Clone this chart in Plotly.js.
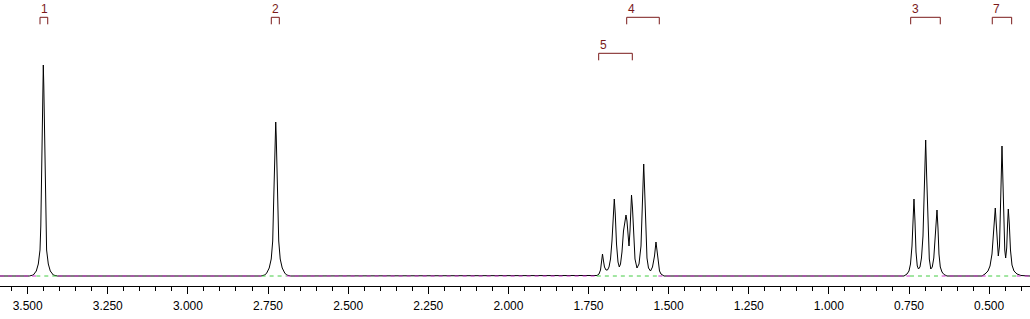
<!DOCTYPE html>
<html>
<head>
<meta charset="utf-8">
<script src="https://cdn.plot.ly/plotly-3.0.1.min.js"></script>
<style>
  html, body { margin: 0; padding: 0; background: #ffffff; }
  #chart { width: 1030px; height: 319px; }
</style>
</head>
<body>
<div id="chart"></div>
<script>
// ---- Data (chemical shift in ppm, intensity in arbitrary units) ----
const shift = [
  3.5863,
  // signal 1
  3.4949, 3.4824, 3.4730, 3.4668, 3.4615, 3.4590, 3.4565, 3.4528, 3.4512, 3.4496, 3.4459, 3.4434, 3.4409, 3.4356, 3.4294, 3.4200, 3.4075,
  // signal 2
  2.7728, 2.7603, 2.7541, 2.7463, 2.7400, 2.7354, 2.7322, 2.7276, 2.7260, 2.7244, 2.7198, 2.7166, 2.7120, 2.7057, 2.6979, 2.6917, 2.6792,
  // signals 4/5 multiplet
  1.7350, 1.7236, 1.7173, 1.7126, 1.7095, 1.7064, 1.7033, 1.7002, 1.6955, 1.6908, 1.6861, 1.6814, 1.6768, 1.6721, 1.6696, 1.6665,
  1.6627, 1.6580, 1.6540, 1.6502, 1.6456, 1.6409, 1.6362, 1.6331, 1.6300, 1.6268, 1.6237, 1.6206, 1.6175, 1.6159, 1.6128, 1.6097,
  1.6050, 1.5988, 1.5925, 1.5863, 1.5816, 1.5778, 1.5747, 1.5716, 1.5676, 1.5629, 1.5566, 1.5504, 1.5441, 1.5395, 1.5363, 1.5332,
  1.5285, 1.5239, 1.5145,
  // signal 3
  0.7657, 0.7563, 0.7501, 0.7454, 0.7407, 0.7376, 0.7345, 0.7314, 0.7282, 0.7242, 0.7204, 0.7158, 0.7111, 0.7064, 0.7017, 0.6980,
  0.6949, 0.6908, 0.6867, 0.6821, 0.6774, 0.6727, 0.6680, 0.6652, 0.6627, 0.6596, 0.6565, 0.6524, 0.6471, 0.6409, 0.6315,
  // signal 7
  0.5223, 0.5129, 0.5036, 0.4973, 0.4911, 0.4864, 0.4833, 0.4808, 0.4777, 0.4746, 0.4714, 0.4677, 0.4646, 0.4621, 0.4599, 0.4574,
  0.4543, 0.4512, 0.4484, 0.4452, 0.4427, 0.4402, 0.4371, 0.4334, 0.4287, 0.4225, 0.4131, 0.4006, 0.3725
];
const intensity = [
  0,
  // signal 1
  0, 1, 5, 12, 26, 50, 105, 190, 211, 190, 105, 50, 26, 12, 5, 1, 0,
  // signal 2
  0, 1, 3, 8, 17, 35, 77, 140, 154, 140, 77, 35, 17, 8, 3, 1, 0,
  // signals 4/5 multiplet
  0, 0.5, 2, 6, 14, 22, 15, 9, 6, 6, 9, 17, 35, 65, 77, 62,
  32, 14, 9, 12, 24, 45, 58, 61, 55, 38, 30, 45, 72, 81, 68, 40,
  17, 8, 12, 30, 70, 112, 85, 45, 18, 8, 5, 9, 20, 34, 25, 12,
  5, 2, 0,
  // signal 3
  0, 2, 5, 12, 30, 60, 77, 55, 24, 10, 7, 9, 18, 40, 90, 136,
  100, 45, 17, 7, 9, 18, 38, 55, 66, 48, 22, 9, 4, 1.5, 0,
  // signal 7
  0, 2, 5, 10, 22, 40, 58, 68, 52, 28, 20, 30, 60, 100, 130, 100,
  55, 26, 18, 28, 50, 67, 52, 26, 11, 5, 2, 0.5, 0
];

// integration regions (green baseline) in ppm
const integralFrom = [3.473, 2.770, 1.724, 0.747, 0.503];
const integralTo   = [3.404, 2.692, 1.532, 0.648, 0.414];

// labelled brackets above the peaks
const bracketLabels = ['1', '2', '4', '5', '3', '7'];
const bracketFrom   = [3.4615, 2.7398, 1.6309, 1.7183, 0.7448, 0.4902];
const bracketTo     = [3.4374, 2.7148, 1.5292, 1.6134, 0.6524, 0.4297];

const xRange = [3.5863, 0.3725];

// ---- build traces ----
const spectrum = {
  x: shift, y: intensity, type: 'scatter', mode: 'lines',
  line: { color: '#000000', width: 1 }, hoverinfo: 'skip'
};

// magenta baseline outside the integration regions
const magX = [xRange[0]], magY = [0];
for (let i = 0; i < integralFrom.length; i++) {
  magX.push(integralFrom[i], null, integralTo[i]);
  magY.push(0, null, 0);
}
magX.push(xRange[1]); magY.push(0);
const magBase = {
  x: magX, y: magY, type: 'scatter', mode: 'lines', connectgaps: false,
  line: { color: '#cc33cc', width: 1, dash: '4px,4px' }, hoverinfo: 'skip'
};

const greenX = [], greenY = [];
for (let i = 0; i < integralFrom.length; i++) {
  greenX.push(integralFrom[i], integralTo[i], null);
  greenY.push(0, 0, null);
}
const greenBase = {
  x: greenX, y: greenY, type: 'scatter', mode: 'lines', connectgaps: false,
  line: { color: '#44cc44', width: 1, dash: '4px,4px' }, hoverinfo: 'skip'
};

// ---- brackets (stacked in rows when they overlap) ----
const plotH = 286; // px height of plot area
const rows = [];
const shapes = [], annotations = [];
for (let i = 0; i < bracketLabels.length; i++) {
  const hi = Math.max(bracketFrom[i], bracketTo[i]);
  const lo = Math.min(bracketFrom[i], bracketTo[i]);
  let row = 0;
  while (rows.some(r => r.row === row && !(lo > r.hi || hi < r.lo))) row++;
  rows.push({ row: row, hi: hi, lo: lo });
  const topPx = 17.3 + row * 36;
  const yTop = 1 - topPx / plotH;
  const yBot = 1 - (topPx + 7) / plotH;
  shapes.push({
    type: 'path', xref: 'x', yref: 'paper',
    path: 'M ' + bracketFrom[i] + ',' + yBot + ' L ' + bracketFrom[i] + ',' + yTop +
          ' L ' + bracketTo[i] + ',' + yTop + ' L ' + bracketTo[i] + ',' + yBot,
    line: { color: '#7a1a1a', width: 1 }
  });
  annotations.push({
    xref: 'x', yref: 'paper', x: bracketFrom[i], y: 1 - (topPx - 8.5) / plotH,
    xanchor: 'left', yanchor: 'middle', showarrow: false, xshift: -1,
    text: bracketLabels[i],
    font: { family: 'Liberation Sans, Arial, sans-serif', size: 12, color: '#7a1a1a' }
  });
}

const layout = {
  width: 1030, height: 319,
  margin: { l: 0, r: 0, t: 0, b: 33, pad: 0 },
  paper_bgcolor: '#ffffff', plot_bgcolor: '#ffffff',
  showlegend: false,
  xaxis: {
    range: xRange, autorange: false,
    tick0: 0, dtick: 0.25, tickformat: '.3f',
    ticks: 'outside', ticklen: 7, tickwidth: 1, tickcolor: '#000000',
    ticklabelstandoff: 2,
    minor: { dtick: 0.05, ticks: 'outside', ticklen: 4, tickwidth: 1, tickcolor: '#000000', showgrid: false },
    showline: true, linecolor: '#000000', linewidth: 1,
    showgrid: false, zeroline: false,
    tickfont: { family: 'Liberation Sans, Arial, sans-serif', size: 12, color: '#000000' }
  },
  yaxis: {
    range: [-10, 276], autorange: false,
    visible: false, showgrid: false, zeroline: false
  },
  shapes: shapes,
  annotations: annotations
};

Plotly.newPlot('chart', [spectrum, magBase, greenBase], layout, { displayModeBar: false, staticPlot: true });
</script>
</body>
</html>
